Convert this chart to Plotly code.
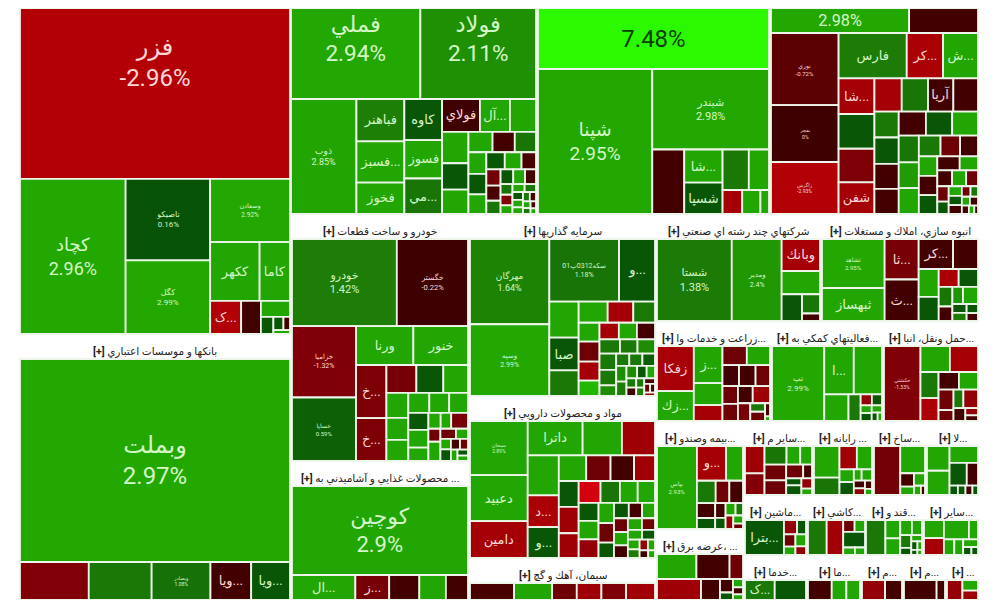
import numpy as np
import plotly.graph_objs as go

# every sector: labels / sizes (tile area) / daily change %
fzr_labels = ["فزر", "کچاد", "تاصیکو", "کگل", "وسعادن", "ککهر", "کاما", "ک...", "", "", "", "", "", ""]
fzr_sizes = [45500, 16000, 6640, 5976, 4836, 2736, 1653, 928, 576, 400, 170, 100, 60, 40]
fzr_changes = [-2.96, 2.96, 0.16, 2.99, 2.92, 2.9, 2.9, -2.9, -0.3, 2.9, 0.3, 0.3, -0.3, 2.9]

fml_labels = ["فملي", "فولاد"]
fml_sizes = [12550, 11200]
fml_changes = [2.94, 2.11]

zob_labels = ["ذوب", "فباهنر", "فسبز...", "فخوز", "کاوه", "فسوز", "مي...", "فولاي", "آل...", ""]
zob_sizes = [7100, 1850, 1800, 1350, 1400, 1300, 1200, 1110, 870, 750,
             720, 600, 550, 414, 378, 360, 320, 300, 288, 255, 230, 195,
             180, 168, 144, 143, 132, 121, 90, 90, 72, 65, 60, 55, 50, 45, 40, 35, 30, 25, 20, 15]
zob_changes = [2.85, 1.5, 2.9, 2.9, 0.3, 2.9, 1.2, -0.25, 2.9, 2.9,
               2.9, 0.3, 2.9, 2.9, -0.3, 1.2, 2.9, 0.3, 2.9, 0.3, 2.9, -0.4,
               -1.1, -0.4, 1.2, 0.3, 2.9, -0.3, 1.2, -1.4, 2.9, 2.9, 1.3, 0.3, 2.9, 2.9, 1.3, -0.3, 2.9, 1.3, -0.3, 2.9]

lime_labels = ["7.48%"]
lime_sizes = [15500]
lime_changes = [7.48]

shp_labels = ["شپنا", "شبندر", "", "شا...", "شسپا"]
shp_sizes = [16000, 9000, 1900, 1150, 1080, 950, 720, 400, 370, 160]
shp_changes = [2.95, 2.98, -0.3, 2.9, 0.3, 1.3, 2.9, -2.5, 2.9, 2.9]

top_labels = ["2.98%"]
top_sizes = [4380, 2140]
top_changes = [2.98, -0.3]

chem_labels = ["نوري", "بفجر", "زاگرس", "فارس", "کر...", "ش...", "شا...", "", "", "شفن", "", "", "آريا"]
chem_sizes = [4480, 3500, 3200, 2800, 1460, 1400, 1120, 1090, 1050, 990, 780, 750, 720, 700,
              530, 540, 510, 510, 550, 530, 520, 450, 430, 430, 370, 330, 300, 290, 285, 280,
              250, 200, 180, 170, 140, 130, 100, 90, 85, 80, 60, 50, 45, 45, 35, 25, 15]
chem_changes = [-0.72, 0, -2.93, 1.4, -2.7, 2.9, -2.5, 0.3, -1.3, -2.5, -2.5, 1.2, -0.3, -0.3,
                1.3, 0.3, -0.3, -0.3, -0.3, 0.3, 2.9, 1.2, 2.5, 2.9, 1.3, -1, -0.3, 2.9, -0.3, 0.3,
                -0.3, 2.9, -0.3, 2.9, -1, -1, 0.3, 2.9, 0.3, -0.3, -1, 1.3, 2.9, -0.3, -0.3, 2.9, -0.3]

auto_labels = ["خودرو", "خگستر", "خزاميا", "خساپا", "ورنا", "خنور", "خ...", "خ..."]
auto_sizes = [8900, 6000, 4400, 3900, 2100, 2000, 1500, 1200, 750, 670, 610, 480, 420, 400,
              360, 340, 320, 290, 300, 220, 155, 130, 220, 120, 187, 120, 90, 80, 90, 70, 60, 50, 40, 35]
auto_changes = [1.42, -0.22, -1.32, 0.59, 2.9, 2.9, -1.3, -1.3, -1.2, 0.3, 2.9, 2.9, 2.9, 2.9,
                2.9, 2.9, 2.9, 0.3, 2.9, 2.9, 2.9, 2.9, -1.2, -1, 2.9, -1, 2.9, 2.9, 0.3, -0.3, -1, 2.9, 0.3, 2.9]

food_labels = ["کوچين"]
food_sizes = [14900]
food_changes = [2.9]

food2_labels = ["ال...", "ز..."]
food2_sizes = [1400, 725, 640, 560, 460]
food2_changes = [2.9, -1.2, -0.3, 2.9, -0.3]

inv_labels = ["مهرگان", "وسپه", "سکه0312پ01", "و...", "", "صبا"]
inv_sizes = [6800, 5700, 4350, 2200, 1000, 900, 700, 560, 490, 410, 350, 370, 350, 280, 280, 260, 260,
             250, 210, 210, 234, 221, 143, 130, 130, 124, 130, 117, 104, 91, 78, 65, 59, 52, 46, 39, 33, 26, 20]
inv_changes = [1.64, 2.99, 1.18, 0.3, 2.9, 0.3, 1.3, 2.9, -2.5, 1.3, 2.9, -1, -2.5, 3.8, -2.5, 2.9, -0.3,
               1.3, 1.3, 2, 1.3, 1.3, 2, 1.3, 1.3, 0.5, 2, 1.4, 2, 0.3, 2.9, 1.3, -0.3, 1.3, 1.5, -0.3, -1, -0.3, -2]

drug_labels = ["سبحان", "دعبيد", "دامين", "داترا", "", "", "", "د...", "و..."]
drug_sizes = [2860, 2420, 1925, 1700, 1200, 1000, 1100, 860, 840, 600, 530, 510, 450, 430, 440, 410, 400,
              350, 320, 310, 290, 300, 300, 250, 240, 185, 175, 155, 150, 145, 140, 130, 120, 110, 100, 90, 80, 70, 60, 50, 40, 30]
drug_changes = [2.89, 2.9, -2.5, 2.9, 2.9, -2.3, 2.9, -2.7, 0.3, 2.9, -1, -0.3, -2.3, 0.3, -2.3, -2.3, -3.2,
                1.2, 2.9, 2.9, 0.3, 2.9, -2, 2.9, -1, 0.3, 0.3, -0.3, 2.9, -1, 2.9, -0.3, 2.9, -1, 2.9, 0.3, 2.9, 1.4, -2, 2.9, -0.3, 2.9]

cem_labels = []
cem_sizes = [690, 590, 370, 370, 370, 440]
cem_changes = [-0.4, 2.9, -1, -2.3, -1.3, -2.4]

multi_labels = ["شستا", "ومدير", "وبانك"]
multi_sizes = [5900, 3900, 1120, 800, 475, 290, 100]
multi_changes = [1.38, 2.4, -2.5, 2.9, 0.3, 1.2, -0.3]

build_labels = ["ثشاهد", "ثبهساز", "ثا...", "ث...", "کر..."]
build_sizes = [2800, 1860, 1220, 1250, 900, 640, 470, 400, 290, 280, 210, 150, 135, 200, 90, 80, 70, 60]
build_changes = [2.95, 2.9, -1.2, -0.3, -0.3, -0.3, 2.9, 0.3, -2.7, 0.3, 1.2, -0.3, 2.3, 2.9, 0.3, 1.4, 0.3, -0.3]

agri_labels = ["زفكا", "زك...", "ز..."]
agri_sizes = [1500, 980, 945, 540, 380, 390, 370, 285, 285, 245, 220, 210, 200, 238, 170, 90, 100, 40, 10]
agri_changes = [-2.6, 2.9, 2.9, 2.9, -2.5, -1, 2.9, -0.3, -0.3, -1, -1, -1, -0.3, -2.3, -1.2, 1.3, -1, -0.3, 2.9]

supp_labels = ["تپ", "ا..."]
supp_sizes = [3750, 1320, 1260, 570, 270, 90, 80, 60, 60, 50, 30, 20]
supp_changes = [2.99, 2.9, 2.9, 2.9, 1.3, -2, 0.3, 2.9, 0.3, 2.9, 0.3, 2.9]

trans_labels = ["حكشتي"]
trans_sizes = [2470, 650, 620, 390, 335, 290, 270, 240, 120, 135, 210, 110, 60, 45]
trans_changes = [-1.33, 2.9, -2.5, 1.3, -2.7, -0.3, 2.9, -1, -1, 1.3, -2, -0.3, -2, -0.3]

ins_labels = ["بپاس", "و..."]
ins_sizes = [2990, 870, 490, 340, 240, 240, 210, 150, 110, 80, 85, 60, 70, 50, 30]
ins_changes = [2.93, -2.5, 2.9, 1.3, -1, -0.3, -0.3, 0.3, -0.3, 0.3, 2.9, 1.3, -2, 2.9, -1]

pow_labels = []
pow_sizes = [890, 740, 280]
pow_changes = [2.9, -0.3, -1]

pow2_labels = []
pow2_sizes = [740, 300, 120, 60, 50, 40, 30]
pow2_changes = [-2.3, -0.3, -0.3, 0.3, 2.9, -0.3, 2.9]

oth1_labels = []
oth1_sizes = [425, 330, 320, 190, 160, 260, 240, 170, 80, 70, 100, 70, 40]
oth1_changes = [-2.3, -1.5, 1.2, 2.9, 2.9, -1, -1, -1, -0.3, 0.3, 0.3, -2, 2.9]

ray_labels = []
ray_sizes = [610, 320, 290, 250, 120, 120, 50, 70, 50, 40, 30, 20]
ray_changes = [2.9, 1.2, -2.3, 2.9, 2.9, 0.3, 2.9, 2.9, -0.3, -2, -0.3, 2.9]

sakh_labels = []
sakh_sizes = [1150, 580, 140, 80, 100, 40, 20]
sakh_changes = [-1.1, 2.9, -0.3, 2.9, 2.9, 2.9, -0.3]

la_labels = []
la_sizes = [470, 460, 400, 320, 200, 50, 45, 40, 30]
la_changes = [2.9, 2.9, 2.9, 0.3, -0.3, 0.3, 0.3, -0.3, 0.3]

mach_labels = ["بترا..."]
mach_sizes = [1200, 140, 90, 100, 65, 90, 60]
mach_changes = [0.3, -2, 0.3, -1, 2.9, 2.9, -2]

kashi_labels = []
kashi_sizes = [570, 500, 100, 90, 280, 60, 50]
kashi_changes = [1.3, -2.4, -1, 2.9, 0.3, 2.9, 2.9]

ghand_labels = []
ghand_sizes = [570, 210, 190, 130, 110, 100, 50, 40, 30, 20, 15, 10]
ghand_changes = [1.3, 2.9, 2.9, 2.9, 2.9, 1.3, 0.3, 2.9, 0.3, 2.9, 0.3, 2.9]

say_labels = []
say_sizes = [290, 270, 400, 130, 120, 100, 80, 40, 30]
say_changes = [2.9, -2.5, 2.9, 2.9, 2.9, 2.9, 2.9, 0.3, 0.3]

kh_labels = ["ک..."]
kh_sizes = [540, 570]
kh_changes = [1.3, 0.3]

ma_labels = []
ma_sizes = [440, 260, 240]
ma_changes = [-0.3, 2.9, 2.9]

m1_labels = []
m1_sizes = [420, 300]
m1_changes = [-2, -0.3]

m2_labels = []
m2_sizes = [620, 140]
m2_changes = [-0.3, -0.3]

m3_labels = []
m3_sizes = [280, 140, 120]
m3_changes = [-2, 2.9, -2.3]

bank_labels = ["وبملت"]
bank_sizes = [54100]
bank_changes = [2.97]

bank2_labels = ["", "", "وبصادر", "ويا...", "ويا..."]
bank2_sizes = [2480, 2260, 2110, 1440, 1370]
bank2_changes = [-1.4, 1.3, 1.08, -0.3, 0.3]

# font sizes of the tiles that carry a percent, everything else uses NAME_PX
pct_px = {"فزر": 24, "کچاد": 18, "تاصیکو": 8, "کگل": 8, "وسعادن": 6.5, "فملي": 24, "فولاد": 24, "ذوب": 9,
          "شپنا": 19, "شبندر": 11, "نوري": 6, "بفجر": 5, "زاگرس": 5, "خودرو": 11, "خگستر": 7.5,
          "خزاميا": 7, "خساپا": 6, "کوچين": 22, "مهرگان": 9, "وسپه": 7, "سکه0312پ01": 7, "سبحان": 5,
          "شستا": 11, "ومدير": 7, "ثشاهد": 6, "تپ": 8, "حكشتي": 5, "بپاس": 6, "وبملت": 24, "وبصادر": 5}
NAME_PX = 13
# cropped at the top of the picture, so the text sits high in the tile
extra_breaks = {"فزر": 2, "فملي": 1, "فولاد": 1}

change_stops = [-3.3, -2.96, -1.32, -0.22, 0.0, 0.16, 1.42, 2.94, 7.48]
red_stops = [225, 179, 127, 62, 62, 6, 29, 35, 42]
green_stops = [0, 0, 0, 0, 0, 82, 125, 168, 249]
blue_stops = [16, 6, 8, 0, 0, 6, 6, 3, 0]

PAGE_GAP = 8  # the browser's body margin
W, H = 1000 - PAGE_GAP, 600 - PAGE_GAP
HEADER = 23
FONT = "Roboto, 'DejaVu Sans'"


def heat(c):
    # zero itself is drawn dark red on this map, hence the flat stop
    if c == 0:
        return "rgb(62,0,0)"
    r, g, b = (int(np.interp(c, change_stops, s)) for s in (red_stops, green_stops, blue_stops))
    return f"rgb({r},{g},{b})"


def ink(c):
    if c > 5:
        return "#0d3d00"
    return "#ffd9d9" if c <= 0 else "#d5f7c8"


def tile_text(name, c):
    if name in pct_px:
        return name + f"<br>{c:g}%" + "<br> " * extra_breaks.get(name, 0)
    return name


fig = go.Figure()
headers = []


def add_sector(x0, y0, x1, y1, title, labels, sizes, changes):
    labels = labels + [""] * (len(sizes) - len(labels))
    ids = [str(i) for i in range(len(sizes))]
    # sizes were read inside the white lines, the layout needs them with the line
    values = [(s ** 0.5 + 1.6) ** 2 for s in sizes]
    if title:
        headers.append(dict(text="<b>[+]</b> " + title, showarrow=False, xref="paper", yref="paper",
                            x=((x0 + x1) / 2 - PAGE_GAP) / W, y=1 - (y0 + 15 - PAGE_GAP) / H,
                            xanchor="center", yanchor="middle",
                            font=dict(family=FONT, size=10.5, color="#222222")))
        y0 += HEADER
    top = max(y0 - PAGE_GAP, 0)
    fig.add_trace(go.Treemap(
        ids=ids, labels=[l or i for l, i in zip(labels, ids)], parents=[""] * len(sizes), values=values,
        text=[tile_text(n, c) for n, c in zip(labels, changes)], textinfo="text",
        branchvalues="remainder", sort=False, textposition="middle center",
        textfont=dict(family=FONT, color=[ink(c) for c in changes],
                      size=[pct_px.get(n, 24 if n.endswith("%") else NAME_PX) for n in labels]),
        marker=dict(colors=[heat(c) for c in changes], line=dict(width=1.8, color="#eef5ea"),
                    pad=dict(t=0, l=0, r=0, b=0)),
        tiling=dict(pad=0), pathbar=dict(visible=False),
        domain=dict(x=[(x0 - PAGE_GAP) / W, (x1 - PAGE_GAP) / W],
                    y=[1 - (y1 - PAGE_GAP) / H, 1 - top / H]),
    ))


add_sector(20, 0, 290, 334, None, fzr_labels, fzr_sizes, fzr_changes)
add_sector(20, 336, 290, 562, "بانكها و موسسات اعتباري", bank_labels, bank_sizes, bank_changes)
add_sector(20, 562, 290, 600, None, bank2_labels, bank2_sizes, bank2_changes)

add_sector(291, 0, 536, 99, None, fml_labels, fml_sizes, fml_changes)
add_sector(291, 99, 536, 214, None, zob_labels, zob_sizes, zob_changes)
add_sector(538, 0, 769, 69, None, lime_labels, lime_sizes, lime_changes)
add_sector(538, 69, 769, 214, None, shp_labels, shp_sizes, shp_changes)
add_sector(771, 0, 978, 33, None, top_labels, top_sizes, top_changes)
add_sector(771, 33, 978, 214, None, chem_labels, chem_sizes, chem_changes)

add_sector(292, 216, 468, 461, "خودرو و ساخت قطعات", auto_labels, auto_sizes, auto_changes)
add_sector(292, 463, 468, 575, "محصولات غذايي و آشاميدني به ...", food_labels, food_sizes, food_changes)
add_sector(292, 575, 468, 600, None, food2_labels, food2_sizes, food2_changes)

add_sector(470, 216, 655, 396, "سرمايه گذاريها", inv_labels, inv_sizes, inv_changes)
add_sector(470, 398, 655, 558, "مواد و محصولات دارويي", drug_labels, drug_sizes, drug_changes)
add_sector(470, 560, 655, 600, "سيمان، آهك و گچ", cem_labels, cem_sizes, cem_changes)

add_sector(657, 216, 820, 321, "شركتهاي چند رشته اي صنعتي", multi_labels, multi_sizes, multi_changes)
add_sector(822, 216, 978, 321, "انبوه سازي، املاك و مستغلات", build_labels, build_sizes, build_changes)
add_sector(657, 323, 770, 421, "زراعت و خدمات وا...", agri_labels, agri_sizes, agri_changes)
add_sector(772, 323, 882, 421, "فعاليتهاي كمكي به...", supp_labels, supp_sizes, supp_changes)
add_sector(884, 323, 978, 421, "حمل ونقل، انبا...", trans_labels, trans_sizes, trans_changes)

add_sector(657, 423, 743, 529, "بيمه وصندو...", ins_labels, ins_sizes, ins_changes)
add_sector(657, 531, 743, 579, "عرضه برق، ...", pow_labels, pow_sizes, pow_changes)
add_sector(657, 579, 743, 600, None, pow2_labels, pow2_sizes, pow2_changes)

add_sector(745, 423, 812, 495, "ساير م...", oth1_labels, oth1_sizes, oth1_changes)
add_sector(814, 423, 872, 495, "رايانه ...", ray_labels, ray_sizes, ray_changes)
add_sector(874, 423, 925, 495, "ساخ...", sakh_labels, sakh_sizes, sakh_changes)
add_sector(927, 423, 978, 495, "لا...", la_labels, la_sizes, la_changes)

add_sector(745, 497, 806, 555, "ماشين...", mach_labels, mach_sizes, mach_changes)
add_sector(808, 497, 865, 555, "كاشي...", kashi_labels, kashi_sizes, kashi_changes)
add_sector(866, 497, 922, 555, "قند و...", ghand_labels, ghand_sizes, ghand_changes)
add_sector(924, 497, 978, 555, "ساير...", say_labels, say_sizes, say_changes)

add_sector(745, 557, 806, 600, "خدما...", kh_labels, kh_sizes, kh_changes)
add_sector(808, 557, 860, 600, "ما...", ma_labels, ma_sizes, ma_changes)
add_sector(862, 557, 902, 600, "م...", m1_labels, m1_sizes, m1_changes)
add_sector(904, 557, 945, 600, "م...", m2_labels, m2_sizes, m2_changes)
add_sector(947, 557, 978, 600, "...", m3_labels, m3_sizes, m3_changes)

fig.update_layout(margin=dict(t=0, l=0, r=0, b=0), paper_bgcolor="white",
                  width=W, height=H, showlegend=False, annotations=headers)
fig.write_html("out.html")
